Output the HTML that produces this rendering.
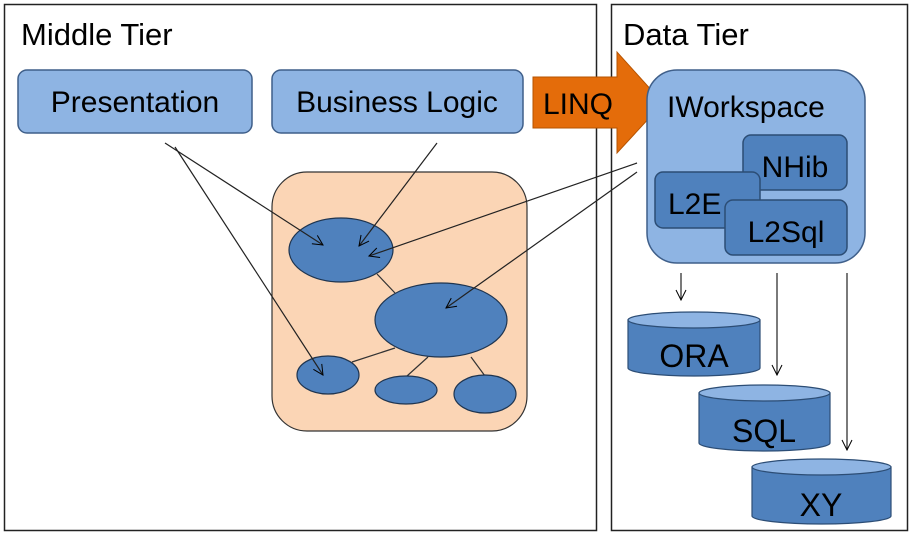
<!DOCTYPE html>
<html><head><style>body{margin:0;background:#fff}svg{display:block}svg text{font-family:"Liberation Sans",Arial,sans-serif}</style></head><body>
<svg width="910" height="534" viewBox="0 0 910 534" font-family="Liberation Sans, Arial, sans-serif">
<defs><marker id="a" markerWidth="12" markerHeight="12" refX="11" refY="6" orient="auto" markerUnits="userSpaceOnUse"><path d="M1,1 L11,6 L1,11" fill="none" stroke="#000" stroke-width="1"/></marker></defs>
<rect x="4.5" y="4.5" width="592" height="526" fill="#fff" stroke="#222" stroke-width="1.5"/>
<rect x="611.5" y="4.5" width="296" height="526" fill="#fff" stroke="#222" stroke-width="1.5"/>
<text x="21" y="45" font-size="31">Middle Tier</text>
<text x="623" y="45" font-size="31">Data Tier</text>
<rect x="18" y="70" width="234" height="63" rx="9" fill="#8eb4e3" stroke="#3f5f8a" stroke-width="1.5"/>
<text x="135" y="112" font-size="30" text-anchor="middle">Presentation</text>
<rect x="272" y="70" width="251" height="63" rx="9" fill="#8eb4e3" stroke="#3f5f8a" stroke-width="1.5"/>
<text x="397" y="112" font-size="30" text-anchor="middle">Business Logic</text>
<path d="M533,77 L617,77 L617,52 L663,103 L617,153 L617,128 L533,128 Z" fill="#e46c0a" stroke="#b65300" stroke-width="1"/>
<text x="543" y="114" font-size="30">LINQ</text>
<rect x="647" y="70" width="218" height="193" rx="30" fill="#8eb4e3" stroke="#3f5f8a" stroke-width="1.5"/>
<text x="667" y="117" font-size="30">IWorkspace</text>
<rect x="743" y="135" width="104" height="55" rx="8" fill="#4f81bd" stroke="#2c4d75" stroke-width="1.5"/>
<text x="795" y="177" font-size="30" text-anchor="middle">NHib</text>
<rect x="655" y="172" width="105" height="56" rx="8" fill="#4f81bd" stroke="#2c4d75" stroke-width="1.5"/>
<text x="668" y="214" font-size="30">L2E</text>
<rect x="725" y="200" width="122" height="55" rx="8" fill="#4f81bd" stroke="#2c4d75" stroke-width="1.5"/>
<text x="786" y="242" font-size="30" text-anchor="middle">L2Sql</text>
<rect x="272" y="172" width="255" height="259" rx="35" fill="#fbd5b5" stroke="#333" stroke-width="1.2"/>
<g stroke="#333" stroke-width="1.2">
<line x1="377" y1="274" x2="395" y2="293"/><line x1="395" y1="348" x2="352" y2="362"/><line x1="428" y1="357" x2="407" y2="376"/><line x1="471" y1="357" x2="485" y2="376"/>
</g>
<g fill="#4f81bd" stroke="#1f3550" stroke-width="1.2">
<ellipse cx="341" cy="250" rx="52" ry="32"/><ellipse cx="441" cy="320" rx="66" ry="37"/><ellipse cx="328" cy="375" rx="31" ry="19"/><ellipse cx="406" cy="390" rx="31" ry="14"/><ellipse cx="485" cy="394" rx="31" ry="19"/>
</g>
<g stroke="#222" stroke-width="1.2" marker-end="url(#a)">
<line x1="165" y1="143" x2="323" y2="245"/><line x1="175" y1="147" x2="323" y2="375"/><line x1="437" y1="143" x2="359" y2="246"/><line x1="637" y1="163" x2="369" y2="256"/><line x1="637" y1="172" x2="446" y2="308"/>
<line x1="681" y1="273" x2="681" y2="300"/><line x1="777" y1="273" x2="777" y2="375"/><line x1="847" y1="273" x2="847" y2="450"/>
</g>
<g stroke="#2c4d75" stroke-width="1.2">
<path d="M628,320 L628,368 A66,8 0 0 0 760,368 L760,320 Z" fill="#4f81bd"/><ellipse cx="694" cy="320" rx="66" ry="8" fill="#8eb4e3"/>
<path d="M699,393 L699,443 A65.5,8 0 0 0 830,443 L830,393 Z" fill="#4f81bd"/><ellipse cx="764.5" cy="393" rx="65.5" ry="8" fill="#8eb4e3"/>
<path d="M752,467 L752,516 A69.5,8 0 0 0 891,516 L891,467 Z" fill="#4f81bd"/><ellipse cx="821.5" cy="467" rx="69.5" ry="8" fill="#8eb4e3"/>
</g>
<text x="694" y="367" font-size="32" text-anchor="middle">ORA</text>
<text x="764" y="442" font-size="32" text-anchor="middle">SQL</text>
<text x="821" y="516" font-size="32" text-anchor="middle">XY</text>
</svg>
</body></html>
